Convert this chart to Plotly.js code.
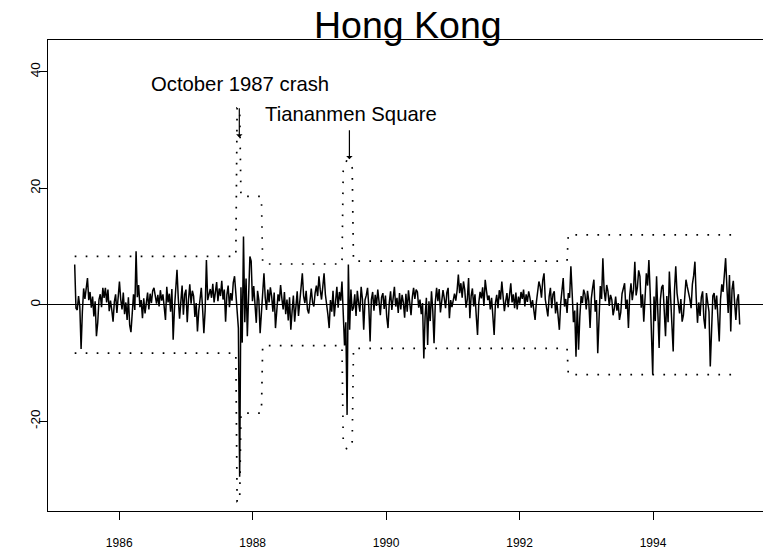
<!DOCTYPE html>
<html>
<head>
<meta charset="utf-8">
<script src="https://cdn.plot.ly/plotly-3.0.1.min.js"></script>
<style>
html, body { margin: 0; padding: 0; overflow: hidden; background: #fff; }
#chart { width: 790px; height: 557px; }
</style>
</head>
<body>
<div id="chart"></div>
<script>
// Weekly returns (%), Hong Kong, starting May 1985
const startYear = 1985.333;
const weekStep = 7 / 365.25;
const returns = [
  6.9, -0.6, -0.9, 1.5, -0.3, -7.6, -1.2, 2.8, 1.0, 3.5,
  4.6, 0.8, 2.2, -0.5, 1.4, -2.0, 0.6, -5.4, -3.1, 0.9,
  1.8, -0.4, 2.9, 1.2, 2.9, 0.4, 2.6, -1.1, 0.7, -0.9,
  -2.9, 0.5, 1.8, -1.4, 2.2, 4.0, 0.9, -0.8, 2.1, -1.6,
  0.4, -2.6, 1.3, -3.5, -4.7, -0.2, 1.8, -0.9, 9.2, 1.3,
  3.4, -0.4, 0.8, -2.3, 1.1, -1.5, 0.6, 2.1, -0.8, 1.9,
  0.3, 2.4, 2.9, 1.1, 0.2, 1.7, -0.3, 2.5, 0.7, 1.8,
  -1.0, -2.6, 3.1, 0.4, 1.9, -1.2, 2.7, -6.0, -0.7, 2.2,
  6.0, 1.1, -2.4, 0.5, 3.3, -1.7, 1.8, 2.6, -3.0, 0.9,
  3.5, 0.2, 2.4, 1.5, -2.1, 0.3, -4.6, -1.1, 1.4, 2.9,
  -0.6, -4.9, -1.0, 7.7, 0.8, 1.9, 2.7, 1.2, 3.6, 0.4,
  2.3, 3.9, 0.6, 2.8, 1.5, 4.1, 0.9, 2.6, -2.9, 1.7,
  3.3, -0.4, 2.0, 0.7, 3.8, 4.9, 2.0, -1.5, -4.0, -29.5,
  3.0, -6.5, 11.7, -3.0, 4.5, -5.4, 1.5, 8.3, 7.5, 0.6,
  3.2, -1.0, -3.1, 2.4, 0.8, -4.9, -1.8, 3.0, 5.4, 1.2,
  -0.9, 2.6, 0.4, 3.0, 1.5, -1.2, 2.1, -4.0, -0.5, 1.8,
  0.6, 3.4, 1.1, -0.8, 2.2, -1.6, 0.9, -2.7, 1.3, -4.3,
  -1.1, 1.6, -2.9, -0.6, 2.3, -1.9, 0.8, 2.1, 5.4, 1.5,
  0.3, 2.4, -0.8, -1.5, 1.2, 2.8, 0.4, -0.3, 2.0, 3.3,
  1.5, 4.9, 2.6, 0.9, 3.1, 5.4, 1.8, -0.6, -1.7, -4.0,
  0.8, -1.2, 2.4, -2.0, 1.1, 3.1, -0.5, 2.2, 0.7, 4.0,
  -1.5, -7.0, -3.0, -18.9, 6.9, -4.3, 2.6, -1.0, -0.5, 1.8,
  -1.9, 2.4, 0.3, -1.2, 3.1, 1.0, -4.3, 0.8, 1.6, 2.9,
  -0.4, -6.3, 0.9, 2.2, -1.0, 1.7, -0.2, 2.6, 0.5, -1.8,
  1.3, 2.0, -0.7, 1.6, -2.1, -4.0, 0.4, 2.3, -0.9, 1.5,
  3.1, -0.3, 1.2, -1.4, 2.0, -0.8, 1.7, 0.4, -2.2, 1.9,
  -1.2, 2.5, 0.7, -1.8, 1.3, 2.9, 1.0, 2.6, 2.2, -0.5,
  0.9, -1.6, 0.3, -9.2, -2.0, 1.2, -6.9, 0.6, -2.8, 2.3,
  -1.0, -6.6, 0.5, 2.9, 0.6, 2.7, -1.3, 0.4, 2.5, 1.1,
  -0.6, 2.1, 2.9, -2.3, 0.8, -0.4, 1.0, 1.9, 0.7, 2.4,
  5.2, 2.0, 3.7, 1.2, 4.0, 2.6, -0.5, 0.9, 4.6, -2.3,
  1.5, 2.8, -0.3, 1.8, -1.9, -5.2, 0.4, 2.2, 1.1, 3.0,
  -0.2, 4.3, 2.4, 0.8, 1.6, -0.8, 1.2, -1.5, -5.2, 0.3,
  1.7, -0.6, 2.5, 0.9, 4.0, 1.4, -1.1, 0.6, 2.0, -0.4,
  1.3, 3.7, 0.4, 1.8, -0.6, 2.1, -0.8, 1.4, 0.2, 2.2,
  1.0, 2.6, -0.3, 1.8, 0.5, 2.3, 1.2, -0.5, 0.8, -1.3,
  -2.6, 0.4, 2.0, 4.0, 3.1, 1.2, 4.2, 5.4, 0.9, -1.1,
  -2.0, 1.4, 2.9, -0.6, 1.8, 2.3, -1.5, 0.5, -2.5, -4.3,
  0.2, 2.7, 4.6, -0.3, 1.0, -1.4, 2.0, 1.2, 6.6, 2.0,
  -3.0, -1.0, -8.9, 0.4, -7.7, -2.0, 1.5, 0.3, 2.6, 1.8,
  -0.8, 2.4, 0.6, -4.0, 1.1, 2.9, 4.3, -1.2, 0.8, -8.3,
  -1.5, 3.2, 1.0, 8.0, 2.5, 0.6, 3.4, 2.3, -0.2, 1.7,
  0.9, -1.8, -0.6, 1.4, -1.0, 0.3, -2.6, -1.3, 1.9, 2.8,
  3.7, -0.7, 0.9, -4.0, 1.6, 3.7, 0.8, 2.6, 7.4, 1.6,
  3.0, 5.9, 4.9, -0.5, 1.8, -2.9, 0.7, 5.4, 3.3, 7.7,
  2.1, -4.5, -12.0, 1.4, -2.8, 4.9, -1.6, -7.4, 0.9, 3.0,
  3.4, -2.2, -5.4, 1.5, -3.0, 5.7, 1.2, -2.6, -8.0, 2.4,
  6.6, 2.0, 0.5, -1.5, 1.0, -2.9, -1.8, 0.9, 4.3, 3.1,
  2.2, 1.0, -0.6, 3.5, 5.0, 7.4, 1.2, -3.1, 0.4, -1.9,
  1.3, 2.3, -2.4, -4.1, 2.0, 0.6, -1.2, -10.6, -3.0, 1.5,
  2.0, -0.8, 1.6, -3.8, -6.3, 0.9, 3.5, 2.2, 4.8, 8.0,
  3.0, -1.4, 5.1, -4.6, 2.6, 4.1, 0.5, -2.6, 0.9, 1.8, -3.4
];

// Volatility band (+/- level) breakpoints, as week index and level
const bandWeek  = [0, 126, 127, 129, 130, 146, 147, 209, 210, 211, 212, 213, 214, 215, 216, 217, 218, 385, 386, 520];
const bandLevel = [8.3, 8.3, 33.8, 33.8, 18.6, 18.6, 7.0, 7.0, 23.5, 24.0, 24.5, 24.9, 24.5, 24.0, 23.8, 23.5, 7.5, 7.5, 12.0, 12.0];

const xTicks = [1986, 1988, 1990, 1992, 1994];
const yTicks = [-20, 0, 20, 40];

// Event annotations
const eventLabels = ["October 1987 crash", "Tiananmen Square"];
const eventX      = [1987.80, 1989.45];
const labelX      = [1987.81, 1989.47];
const labelY      = [37.9, 32.7];
const arrowFromY  = [34.0, 30.2];
const arrowToY    = [28.7, 25.0];

const toYear = w => startYear + w * weekStep;
const xs = returns.map((_, i) => toYear(i));
const bx = bandWeek.map(toYear);

const FONT = "Liberation Sans, Arial, Helvetica, sans-serif";

const traces = [
  { x: bx, y: bandLevel, mode: 'lines', line: { color: '#000', width: 1.7, dash: '1.7px,9.3px' }, hoverinfo: 'skip' },
  { x: bx, y: bandLevel.map(v => -v), mode: 'lines', line: { color: '#000', width: 1.7, dash: '1.7px,9.3px' }, hoverinfo: 'skip' },
  { x: xs, y: returns, mode: 'lines', line: { color: '#000', width: 1.5 }, hoverinfo: 'skip' }
];

const annotations = [];
eventLabels.forEach((t, k) => {
  annotations.push({ x: labelX[k], y: labelY[k], xref: 'x', yref: 'y', text: t, showarrow: false,
    font: { family: FONT, size: 20.3, color: '#000' }, xanchor: 'center', yanchor: 'middle' });
  annotations.push({ x: eventX[k], y: arrowToY[k], ax: eventX[k], ay: arrowFromY[k], axref: 'x', ayref: 'y',
    xref: 'x', yref: 'y', text: '', showarrow: true, arrowhead: 1, arrowsize: 0.9, arrowwidth: 1.2, arrowcolor: '#000' });
});
annotations.push({ x: 0.5, y: 1.0312, xref: 'paper', yref: 'paper', text: 'Hong Kong', showarrow: false,
  font: { family: FONT, size: 37.5, color: '#000' }, xanchor: 'center', yanchor: 'middle' });

const layout = {
  width: 790, height: 557,
  margin: { l: 48, r: 22, t: 40, b: 46 },
  paper_bgcolor: '#fff', plot_bgcolor: '#fff',
  showlegend: false,
  font: { family: FONT, color: '#000' },
  xaxis: {
    range: [1984.933, 1995.723], tickmode: 'array', tickvals: xTicks, ticktext: xTicks.map(String),
    ticks: 'outside', ticklen: 8, tickwidth: 1, tickcolor: '#000',
    showline: true, mirror: true, linecolor: '#000', linewidth: 1.2,
    showgrid: false, zeroline: false, tickfont: { size: 12, family: FONT }, ticklabelstandoff: 12
  },
  yaxis: {
    range: [-35.4, 45.45], tickmode: 'array', tickvals: yTicks, ticktext: yTicks.map(String),
    ticks: 'outside', ticklen: 8, tickwidth: 1, tickcolor: '#000', tickangle: -90,
    showline: true, mirror: true, linecolor: '#000', linewidth: 1.2,
    showgrid: false, zeroline: true, zerolinecolor: '#000', zerolinewidth: 1.4,
    tickfont: { size: 13.5, family: FONT }, ticklabelstandoff: -7
  },
  annotations: annotations
};

Plotly.newPlot('chart', traces, layout, { staticPlot: true, displayModeBar: false });
</script>
</body>
</html>
